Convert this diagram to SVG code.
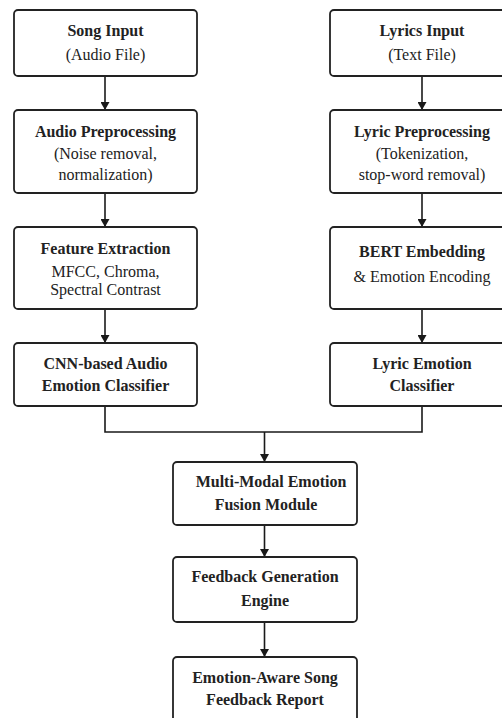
<svg xmlns="http://www.w3.org/2000/svg" width="502" height="718" viewBox="0 0 502 718">
<defs>
<marker id="ah" viewBox="0 0 8 9" refX="8" refY="4.5" markerWidth="8" markerHeight="9" markerUnits="userSpaceOnUse" orient="auto">
<path d="M0,0 L8,4.5 L0,9 Z" fill="#1a1a1a"/>
</marker>
<style>
.box{fill:#fff;stroke:#222;stroke-width:1.8}
.t{font-family:"Liberation Serif","Times New Roman",serif;font-size:16px;fill:#222;text-anchor:middle}
.b{font-weight:bold}
.c{fill:none;stroke:#1a1a1a;stroke-width:1.6}
</style>
</defs>
<rect width="502" height="718" fill="#fff"/>
<g id="connectors">
<line class="c" x1="105" y1="76" x2="105" y2="110" marker-end="url(#ah)"/>
<line class="c" x1="105" y1="193" x2="105" y2="227" marker-end="url(#ah)"/>
<line class="c" x1="105" y1="309" x2="105" y2="343" marker-end="url(#ah)"/>
<line class="c" x1="422" y1="76" x2="422" y2="110" marker-end="url(#ah)"/>
<line class="c" x1="422" y1="193" x2="422" y2="227" marker-end="url(#ah)"/>
<line class="c" x1="422" y1="309" x2="422" y2="343" marker-end="url(#ah)"/>
<polyline class="c" points="105,406 105,432 422,432 422,406"/>
<line class="c" x1="264.5" y1="432" x2="264.5" y2="462" marker-end="url(#ah)"/>
<line class="c" x1="264.5" y1="525" x2="264.5" y2="557" marker-end="url(#ah)"/>
<line class="c" x1="264.5" y1="622" x2="264.5" y2="657" marker-end="url(#ah)"/>
</g>
<g id="song-input">
<rect class="box" x="14" y="10" width="183" height="66" rx="4"/>
<text class="t b" x="105.5" y="36">Song Input</text>
<text class="t" x="105.5" y="60">(Audio File)</text>
</g>
<g id="audio-preprocessing">
<rect class="box" x="14" y="110" width="183" height="83" rx="4"/>
<text class="t b" x="105.5" y="137">Audio Preprocessing</text>
<text class="t" x="105.5" y="159">(Noise removal,</text>
<text class="t" x="105.5" y="180">normalization)</text>
</g>
<g id="feature-extraction">
<rect class="box" x="14" y="227" width="183" height="82" rx="4"/>
<text class="t b" x="105.5" y="254">Feature Extraction</text>
<text class="t" x="105.5" y="277">MFCC, Chroma,</text>
<text class="t" x="105.5" y="295">Spectral Contrast</text>
</g>
<g id="cnn-classifier">
<rect class="box" x="14" y="343" width="183" height="63" rx="4"/>
<text class="t b" x="105.5" y="369">CNN-based Audio</text>
<text class="t b" x="105.5" y="391">Emotion Classifier</text>
</g>
<g id="lyrics-input">
<rect class="box" x="330" y="10" width="184" height="66" rx="4"/>
<text class="t b" x="422" y="36">Lyrics Input</text>
<text class="t" x="422" y="60">(Text File)</text>
</g>
<g id="lyric-preprocessing">
<rect class="box" x="330" y="110" width="184" height="83" rx="4"/>
<text class="t b" x="422" y="137">Lyric Preprocessing</text>
<text class="t" x="422" y="159">(Tokenization,</text>
<text class="t" x="422" y="180">stop-word removal)</text>
</g>
<g id="bert-embedding">
<rect class="box" x="330" y="227" width="184" height="82" rx="4"/>
<text class="t b" x="422" y="257">BERT Embedding</text>
<text class="t" x="422" y="282">&amp; Emotion Encoding</text>
</g>
<g id="lyric-classifier">
<rect class="box" x="330" y="343" width="184" height="63" rx="4"/>
<text class="t b" x="422" y="369">Lyric Emotion</text>
<text class="t b" x="422" y="391">Classifier</text>
</g>
<g id="fusion-module">
<rect class="box" x="173" y="462" width="184" height="63" rx="4"/>
<text class="t b" x="271" y="487">Multi-Modal Emotion</text>
<text class="t b" x="266" y="510">Fusion Module</text>
</g>
<g id="feedback-engine">
<rect class="box" x="173" y="557" width="184" height="65" rx="4"/>
<text class="t b" x="265" y="582">Feedback Generation</text>
<text class="t b" x="265" y="606">Engine</text>
</g>
<g id="feedback-report">
<rect class="box" x="173" y="657" width="184" height="70" rx="4"/>
<text class="t b" x="265" y="683">Emotion-Aware Song</text>
<text class="t b" x="265" y="705">Feedback Report</text>
</g>
</svg>
